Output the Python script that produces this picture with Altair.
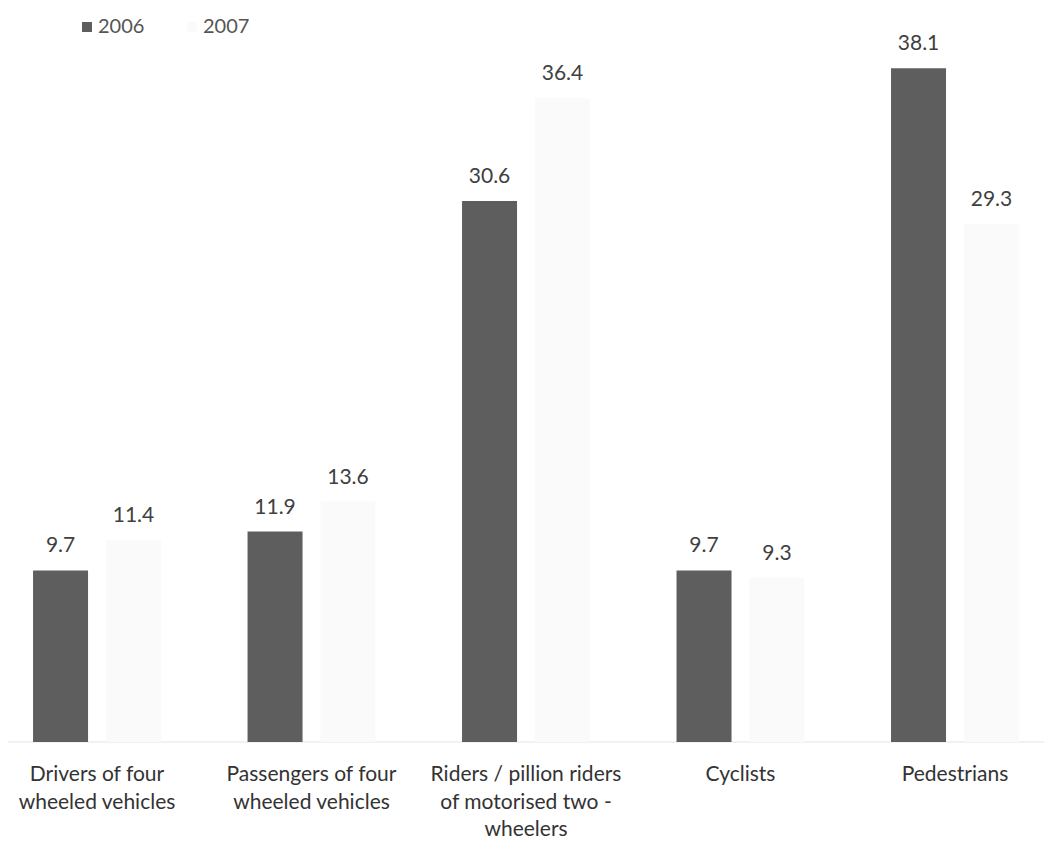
import altair as alt
import pandas as pd

categories = [
    "Drivers of four\nwheeled vehicles",
    "Passengers of four\nwheeled vehicles",
    "Riders / pillion riders\nof motorised two -\nwheelers",
    "Cyclists",
    "Pedestrians",
]
years = ["2006", "2007"]
v2006 = [9.7, 11.9, 30.6, 9.7, 38.1]
v2007 = [11.4, 13.6, 36.4, 9.3, 29.3]

offsets = {"2006": -0.17, "2007": 0.17}
rows = []
for i, cat in enumerate(categories):
    for yr, vals in (("2006", v2006), ("2007", v2007)):
        rows.append({"idx": i, "cat": cat, "year": yr, "value": vals[i],
                     "pos": i + offsets[yr], "label": f"{vals[i]:.1f}"})
df = pd.DataFrame(rows)
cat_df = pd.DataFrame({"idx": list(range(len(categories))), "cat": categories})

W, H = 1036, 725
xscale = alt.Scale(domain=[-0.415, 4.415], nice=False, zero=False, padding=0)
yscale = alt.Scale(domain=[0, 41], nice=False, padding=0)

base = alt.Chart(df)

bars = base.mark_bar(size=55, orient="vertical").encode(
    x=alt.X("pos:Q", scale=xscale, axis=None),
    y=alt.Y("value:Q", scale=yscale, axis=None, stack=None),
    color=alt.Color(
        "year:N",
        scale=alt.Scale(domain=years, range=["#5e5e5e", "#fafafa"]),
        legend=alt.Legend(
            orient="none", legendX=69, legendY=0, direction="horizontal",
            title=None, symbolType="square", symbolSize=100,
            labelFontSize=20, labelFont="Lato", labelColor="#555555",
            columnPadding=37, labelOffset=1,
        ),
    ),
)

values = base.mark_text(baseline="bottom", dy=-14, fontSize=21, font="Lato",
                        color="#404040").encode(
    x=alt.X("pos:Q", scale=xscale, axis=None),
    y=alt.Y("value:Q", scale=yscale, axis=None, stack=None),
    text="label:N",
)

baseline = alt.Chart(pd.DataFrame({"v": [0]})).mark_rule(
    color="#e4e4e4", strokeWidth=1
).encode(y=alt.Y("v:Q", scale=yscale, axis=None))

cat_labels = alt.Chart(cat_df).mark_text(
    baseline="top", align="center", fontSize=21, font="Lato",
    color="#333333", lineBreak="\n", lineHeight=27.5
).encode(
    x=alt.X("idx:Q", scale=xscale, axis=None),
    y=alt.value(H + 22),
    text="cat:N",
)

chart = alt.layer(baseline, bars, values, cat_labels).properties(
    width=W, height=H,
    autosize=alt.AutoSizeParams(type="none"),
    padding={"left": 0, "top": 9, "right": 0, "bottom": 100},
).configure(font="Lato").configure_view(stroke=None, strokeWidth=0)

chart.save("out.html", embed_options={"renderer": "svg", "actions": False})
